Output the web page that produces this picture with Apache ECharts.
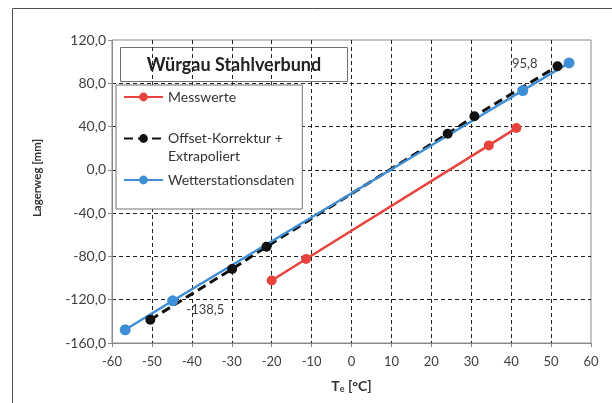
<!DOCTYPE html>
<html>
<head>
<meta charset="utf-8">
<script src="https://cdn.jsdelivr.net/npm/echarts@6/dist/echarts.min.js"></script>
<style>
  html, body { margin: 0; padding: 0; background: #fff; }
  #chart { width: 612px; height: 403px; }
</style>
</head>
<body>
<div id="chart"></div>
<script>
// Bearing displacement vs. ambient temperature
const messT = [-20, -11.4, 34.4, 41.3];
const messW = [-102.3, -82.4, 22.6, 38.6];

const offsetT = [-50.4, -29.9, -21.3, 24.1, 30.8, 51.6];
const offsetW = [-138.5, -91.6, -71.0, 33.4, 49.6, 95.8];

const wetterT = [-56.7, -44.8, 42.9, 54.5];
const wetterW = [-147.8, -121.0, 73.3, 98.8];

// indices of the Offset points that carry a value label
const labelledOffset = [0, 5];

const seriesNames = ['Messwerte', 'Offset-Korrektur +\nExtrapoliert', 'Wetterstationsdaten'];
const chartTitle = 'Würgau Stahlverbund';

const fmt = v => v.toFixed(1).replace('.', ',');
const pairs = (xs, ys) => xs.map((x, i) => [x, ys[i]]);

const FONT = 'Lato, "Open Sans", sans-serif';
const chart = echarts.init(document.getElementById('chart'), null, { renderer: 'canvas' });

const offsetData = pairs(offsetT, offsetW).map((p, i) => {
  if (labelledOffset.indexOf(i) < 0) return p;
  const first = i === 0;
  return {
    value: p,
    label: {
      show: true,
      formatter: fmt(p[1]),
      position: first ? 'right' : 'left',
      offset: first ? [26, -10] : [-10, -2],
      color: '#404040',
      fontSize: 13,
      fontFamily: FONT
    }
  };
});

chart.setOption({
  animation: false,
  textStyle: { fontFamily: FONT },
  graphic: [
    {
      type: 'rect', silent: true, z: -1,
      shape: { x: 12.5, y: 8.5, width: 700, height: 500 },
      style: { fill: 'none', stroke: '#505050', lineWidth: 1 }
    },
    {
      type: 'group', left: 120, top: 47, z: 10,
      children: [
        {
          type: 'rect',
          shape: { x: 0.5, y: 0.5, width: 227, height: 34 },
          style: { fill: '#fff', stroke: '#707070', lineWidth: 1 }
        },
        {
          type: 'text',
          style: {
            text: chartTitle, x: 114, y: 18, align: 'center', verticalAlign: 'middle',
            fill: '#222', font: 'bold 18px ' + FONT
          }
        }
      ]
    }
  ],
  legend: {
    orient: 'vertical',
    left: 116, top: 85,
    itemWidth: 39, itemHeight: 11, itemGap: 5.5,
    padding: [3, 8, 20, 7],
    backgroundColor: '#fff',
    borderColor: '#707070', borderWidth: 1,
    data: seriesNames,
    formatter: name => name.indexOf('\n') >= 0 ? ' \n' + name : name,
    textStyle: { color: '#333', fontSize: 14, lineHeight: 18, fontFamily: FONT }
  },
  grid: {
    left: 112, right: 21, top: 40, bottom: 60,
    show: true, borderColor: '#8a8a8a', borderWidth: 1, backgroundColor: '#fff'
  },
  xAxis: {
    type: 'value', min: -60, max: 60, interval: 10,
    name: 'T{sub|e} [°C]', nameLocation: 'middle', nameGap: 36,
    nameTextStyle: {
      color: '#333', fontSize: 14, fontWeight: 'bold', fontFamily: FONT,
      rich: { sub: { fontSize: 9, fontWeight: 'bold', verticalAlign: 'bottom', padding: [6, 0, 0, 0], color: '#333' } }
    },
    axisLine: { show: true, onZero: false, lineStyle: { color: '#8a8a8a', width: 1 } },
    axisTick: { show: true, length: 4, inside: false, lineStyle: { color: '#8a8a8a' } },
    axisLabel: { color: '#404040', fontSize: 13, margin: 12.5 },
    splitLine: { show: true, showMinLine: false, showMaxLine: false, lineStyle: { color: '#222', type: [4, 3], width: 1 } }
  },
  yAxis: {
    type: 'value', min: -160, max: 120, interval: 40,
    name: 'Lagerweg [mm]', nameLocation: 'middle', nameGap: 69,
    nameTextStyle: { color: '#333', fontSize: 11.5, fontWeight: 'bold', fontFamily: FONT, padding: [0, 0, 0, 27] },
    axisLine: { show: true, onZero: false, lineStyle: { color: '#8a8a8a', width: 1 } },
    axisTick: { show: true, length: 4, inside: false, lineStyle: { color: '#8a8a8a' } },
    axisLabel: { color: '#404040', fontSize: 14, margin: 6, formatter: v => fmt(v) },
    splitLine: { show: true, showMinLine: false, showMaxLine: false, lineStyle: { color: '#222', type: [4, 3], width: 1 } }
  },
  series: [
    {
      name: seriesNames[0], type: 'line', data: pairs(messT, messW),
      symbol: 'circle', symbolSize: 10,
      itemStyle: { color: '#E8433D' },
      lineStyle: { color: '#E8433D', width: 2.5 }
    },
    {
      name: seriesNames[1], type: 'line', data: offsetData,
      symbol: 'circle', symbolSize: 10,
      itemStyle: { color: '#111' },
      lineStyle: { color: '#111', width: 3, type: [9, 5] }
    },
    {
      name: seriesNames[2], type: 'line', data: pairs(wetterT, wetterW),
      symbol: 'circle', symbolSize: 11,
      itemStyle: { color: '#3E8ED8' },
      lineStyle: { color: '#3E8ED8', width: 2.5 }
    }
  ]
});
</script>
</body>
</html>
